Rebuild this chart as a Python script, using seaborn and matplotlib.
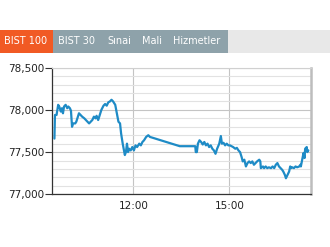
import matplotlib
matplotlib.use("Agg")
import matplotlib.pyplot as plt
from matplotlib.patches import Rectangle
from matplotlib.ticker import MultipleLocator, FuncFormatter
import seaborn as sns
import pandas as pd

# ---- data -------------------------------------------------------------
tabs = ["BIST 100", "BIST 30", "Sınai", "Mali", "Hizmetler"]

times = [
    "09:32", "09:33", "09:36", "09:39", "09:41", "09:44", "09:46", "09:48", "09:50", "09:53",
    "09:56", "09:58", "10:01", "10:03", "10:05", "10:07", "10:11", "10:13", "10:15", "10:18",
    "10:21", "10:24", "10:28", "10:31", "10:34", "10:37", "10:40", "10:43", "10:46", "10:49",
    "10:51", "10:54", "10:57", "11:00", "11:04", "11:07", "11:10", "11:13", "11:16", "11:19",
    "11:22", "11:26", "11:29", "11:32", "11:35", "11:37", "11:40", "11:43", "11:44", "11:46",
    "11:48", "11:50", "11:52", "11:55", "11:58", "12:01", "12:04", "12:07", "12:11", "12:14",
    "12:17", "12:20", "12:24", "12:28", "12:31", "13:27", "13:56", "13:57", "13:59", "14:01",
    "14:04", "14:07", "14:10", "14:13", "14:16", "14:19", "14:22", "14:25", "14:28", "14:31",
    "14:34", "14:37", "14:41", "14:44", "14:46", "14:49", "14:52", "14:55", "14:58", "15:01",
    "15:04", "15:07", "15:11", "15:14", "15:17", "15:20", "15:23", "15:25", "15:28", "15:31",
    "15:34", "15:37", "15:40", "15:43", "15:46", "15:49", "15:52", "15:56", "15:58", "15:59",
    "16:03", "16:05", "16:08", "16:11", "16:14", "16:18", "16:21", "16:24", "16:27", "16:30",
    "16:33", "16:36", "16:39", "16:41", "16:44", "16:46", "16:49", "16:52", "16:54", "16:56",
    "16:58", "17:01", "17:04", "17:07", "17:11", "17:13", "17:14", "17:17", "17:19", "17:21",
    "17:22", "17:25", "17:26", "17:28",
]
values = [
    77660, 77940, 77940, 78060, 78040, 77980, 78020, 77960, 78040, 78060,
    78020, 78040, 78020, 77990, 77800, 77840, 77840, 77860, 77900, 77960,
    77940, 77920, 77900, 77880, 77860, 77840, 77860, 77880, 77920, 77900,
    77930, 77880, 77940, 78000, 78050, 78070, 78050, 78090, 78100, 78120,
    78100, 78060, 77960, 77860, 77840, 77720, 77600, 77500, 77465, 77500,
    77600, 77500, 77540, 77520, 77560, 77520, 77580, 77560, 77600, 77580,
    77620, 77640, 77680, 77700, 77680, 77570, 77570, 77500, 77500, 77600,
    77640, 77620, 77590, 77620, 77580, 77600, 77560, 77580, 77540, 77520,
    77480, 77540, 77600, 77690, 77600, 77610, 77580, 77600, 77580, 77580,
    77570, 77560, 77540, 77550, 77520, 77500, 77440, 77390, 77410, 77330,
    77370, 77390, 77370, 77390, 77350, 77370, 77390, 77410, 77390, 77310,
    77330, 77310, 77330, 77310, 77320, 77310, 77330, 77310, 77350, 77370,
    77330, 77310, 77290, 77270, 77230, 77190, 77230, 77270, 77330, 77310,
    77320, 77310, 77330, 77320, 77330, 77350, 77330, 77430, 77490, 77430,
    77540, 77560, 77500, 77520,
]
x_ticks = ["12:00", "15:00"]
y_ticks = [77000, 77500, 78000, 78500]


def to_hours(s):
    h, m = s.split(":")
    return int(h) + int(m) / 60.0


df = pd.DataFrame({"hour": [to_hours(t) for t in times], "value": values})

# ---- figure -----------------------------------------------------------
sns.set_theme(style="white")
plt.rcParams["font.family"] = ["DejaVu Sans"]

W, H = 330, 247
fig = plt.figure(figsize=(W / 100, H / 100), dpi=100)
fig.patch.set_facecolor("white")


def fx(px):
    return px / W


def fy(py):
    return 1 - py / H


# tab bar
bar_top, bar_bot = 30, 53.5
fig.add_artist(Rectangle((fx(0), fy(bar_bot)), fx(330), (bar_bot - bar_top) / H,
                         transform=fig.transFigure, facecolor="#e8e8e8", edgecolor="none"))
fig.add_artist(Rectangle((fx(53.3), fy(bar_bot)), fx(228 - 53.3), (bar_bot - bar_top) / H,
                         transform=fig.transFigure, facecolor="#8ea2aa", edgecolor="none"))
fig.add_artist(Rectangle((fx(0), fy(bar_bot)), fx(53.3), (bar_bot - bar_top) / H,
                         transform=fig.transFigure, facecolor="#f15a24", edgecolor="none"))
tab_x = [4, 58, 107, 142, 173]
for lbl, px in zip(tabs, tab_x):
    fig.text(fx(px), fy(41.5), lbl, color="white", fontsize=7, ha="left", va="center")

# axes
ax = fig.add_axes([fx(52.3), fy(194.3), fx(311 - 52.3), (194.3 - 67.7) / H])
sns.lineplot(data=df, x="hour", y="value", ax=ax, color="#1e8bc6", linewidth=1.6,
             estimator=None, sort=False)

ax.set_xlim(to_hours("09:28"), to_hours("17:33"))
ax.set_ylim(77000, 78500)
ax.set_xticks([to_hours(t) for t in x_ticks])
ax.set_xticklabels(x_ticks)
ax.set_yticks(y_ticks)
ax.yaxis.set_major_formatter(FuncFormatter(lambda v, p: f"{int(v):,}"))
ax.yaxis.set_minor_locator(MultipleLocator(100))
ax.set_xlabel("")
ax.set_ylabel("")

ax.grid(which="major", axis="both", color="#c4c4c4", linewidth=0.8)
ax.grid(which="minor", axis="y", color="#e2e2e2", linewidth=0.8)
ax.set_axisbelow(True)

ax.tick_params(axis="y", which="major", direction="out", length=5, width=0.8,
               color="#333333", labelsize=7.5, labelcolor="#222222", pad=1, left=True)
ax.tick_params(axis="y", which="minor", length=0)
ax.tick_params(axis="x", which="major", length=0, labelsize=7.5, labelcolor="#222222", pad=5)

for side in ["left", "bottom"]:
    ax.spines[side].set_color("#333333")
    ax.spines[side].set_linewidth(0.9)
ax.spines["top"].set_color("#d0d0d0")
ax.spines["top"].set_linewidth(0.8)
ax.spines["right"].set_color("#bdbdbd")
ax.spines["right"].set_linewidth(1.8)

fig.savefig("out.png", dpi=100)
